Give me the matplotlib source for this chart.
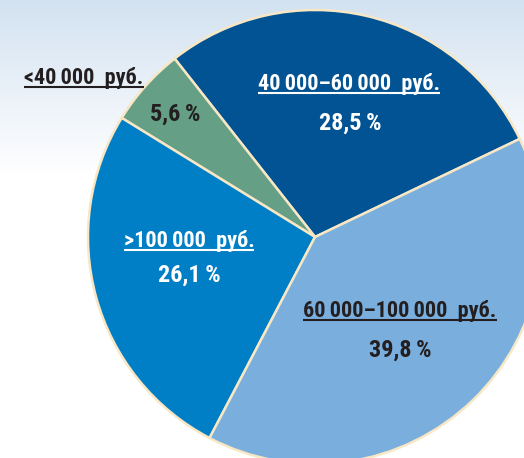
import matplotlib.pyplot as plt
import numpy as np

# income groups, share of respondents, %
labels = ['40\u2009000\u201360\u2009000  руб.', '<40\u2009000  руб.', '>100\u2009000  руб.', '60\u2009000\u2013100\u2009000  руб.']
shares = [28.5, 5.6, 26.1, 39.8]
pct_text = ['28,5\u2009%', '5,6\u2009%', '26,1\u2009%', '39,8\u2009%']
colors = ['#025394', '#659f86', '#007ec6', '#7aaedd']
text_colors = ['white', '#231f20', 'white', '#231f20']

W, H = 524, 458
fig = plt.figure(figsize=(W / 100, H / 100), dpi=100)
ax = fig.add_axes([0, 0, 1, 1])

# soft blue gradient at the top
grad = np.linspace(0, 1, 200)
top = np.array([0.827, 0.886, 0.945])
rgb = top[None, :] * (1 - grad[:, None]) + np.ones(3)[None, :] * grad[:, None]
img = np.repeat(rgb[:, None, :], 2, axis=1)
ax.imshow(img, extent=[0, W, H - 175, H], aspect='auto', zorder=0, origin='upper')

cx, cy, r = 315, H - 237, 227
ax.pie(shares, colors=colors, startangle=25.6, counterclock=True, center=(cx, cy), radius=r,
       wedgeprops=dict(edgecolor='#f7e7c4', linewidth=1.8), frame=True)
ax.set_xlim(0, W)
ax.set_ylim(0, H)
ax.axis('off')

font = dict(family=['Roboto Condensed', 'DejaVu Sans'], weight='bold')

# label positions in image pixels (x, y from top)
label_pos = [(349, 84), (84, 78), (189, 241), (400, 311)]
pct_pos = [(350, 123), (175, 114), (189, 275), (400, 350)]

fig.canvas.draw()
renderer = fig.canvas.get_renderer()
inv = ax.transData.inverted()
for i in range(len(shares)):
    lx, ly = label_pos[i]
    t = ax.text(lx, H - ly, labels[i], ha='center', va='center', color=text_colors[i], fontsize=16, **font)
    bb = t.get_window_extent(renderer)
    (x0, y0), (x1, y1) = inv.transform([(bb.x0, bb.y0), (bb.x1, bb.y1)])
    ax.plot([x0, x1], [y0 + 2, y0 + 2], color=text_colors[i], lw=1.5, solid_capstyle='butt')
    px, py = pct_pos[i]
    ax.text(px, H - py, pct_text[i], ha='center', va='center', color=text_colors[i], fontsize=17.5, **font)

fig.savefig('out.png', dpi=100)
